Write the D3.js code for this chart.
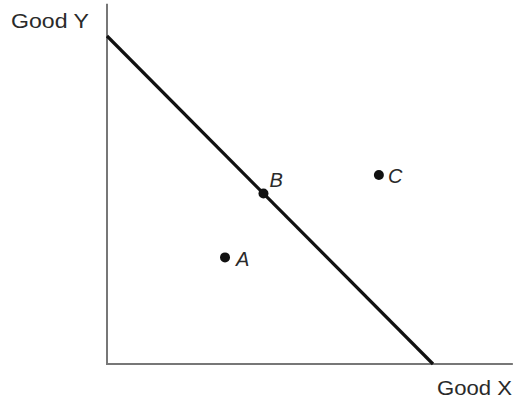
<!DOCTYPE html>
<html>
<head>
<meta charset="utf-8">
<script src="https://cdn.jsdelivr.net/npm/d3@7"></script>
<style>
  html, body { margin: 0; padding: 0; background: #fff; }
  svg { display: block; }
</style>
</head>
<body>
<svg id="chart" width="516" height="400"></svg>
<script>
// ---- data ----
const budgetX = [0, 10];          // budget line endpoints (Good X)
const budgetY = [10, 0];          // budget line endpoints (Good Y)
const pointNames = ["A", "B", "C"];
const pointX = [3.62, 4.8, 8.34];
const pointY = [3.25, 5.2, 5.76];
const axisMax = { x: 12.45, y: 10.98 };
const axisTitles = { x: "Good X", y: "Good Y" };

// ---- layout ----
const svg = d3.select("#chart");
const origin = { x: 107, y: 364 };
const x = d3.scaleLinear().domain([0, 10]).range([origin.x, 433]);
const y = d3.scaleLinear().domain([0, 10]).range([origin.y, 36]);
const font = "Liberation Sans, Arial, sans-serif";

// axes
svg.append("line")
  .attr("x1", x(0)).attr("y1", y(0))
  .attr("x2", x(0)).attr("y2", y(axisMax.y))
  .attr("stroke", "#777").attr("stroke-width", 2);
svg.append("line")
  .attr("x1", x(0) - 1).attr("y1", y(0))
  .attr("x2", x(axisMax.x)).attr("y2", y(0))
  .attr("stroke", "#777").attr("stroke-width", 2);

// budget line
const budget = budgetX.map((v, i) => [v, budgetY[i]]);
svg.append("path")
  .datum(budget)
  .attr("d", d3.line().x(d => x(d[0])).y(d => y(d[1])))
  .attr("fill", "none")
  .attr("stroke", "#111")
  .attr("stroke-width", 3.2);

// points
const pts = pointNames.map((n, i) => ({ name: n, x: pointX[i], y: pointY[i] }));
svg.selectAll("circle.pt").data(pts).enter().append("circle")
  .attr("class", "pt")
  .attr("cx", d => x(d.x)).attr("cy", d => y(d.y))
  .attr("r", 5).attr("fill", "#111");

const labelOffset = { A: [11, 9], B: [6, -6], C: [9, 8] };
svg.selectAll("text.pl").data(pts).enter().append("text")
  .attr("class", "pl")
  .attr("x", d => x(d.x) + labelOffset[d.name][0])
  .attr("y", d => y(d.y) + labelOffset[d.name][1])
  .attr("font-family", font)
  .attr("font-style", "italic")
  .attr("font-size", 20)
  .attr("fill", "#2a2a2a")
  .text(d => d.name);

// axis titles
svg.append("text")
  .attr("x", 11).attr("y", 28)
  .attr("font-family", font)
  .attr("font-size", 21).attr("fill", "#2a2a2a")
  .attr("textLength", 78).attr("lengthAdjust", "spacingAndGlyphs")
  .text(axisTitles.y);
svg.append("text")
  .attr("x", 437).attr("y", 395)
  .attr("font-family", font)
  .attr("font-size", 21).attr("fill", "#2a2a2a")
  .attr("textLength", 75).attr("lengthAdjust", "spacingAndGlyphs")
  .text(axisTitles.x);
</script>
</body>
</html>
